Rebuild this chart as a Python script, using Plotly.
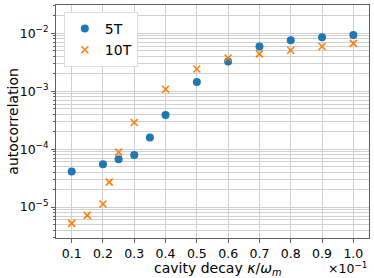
import plotly.graph_objects as go

x_5t = [0.1, 0.2, 0.25, 0.3, 0.35, 0.4, 0.5, 0.6, 0.7, 0.8, 0.9, 1.0]
y_5t = [4.1e-5, 5.5e-5, 6.7e-5, 7.9e-5, 1.59e-4, 3.9e-4, 1.44e-3, 3.25e-3, 5.9e-3, 7.6e-3, 8.5e-3, 9.35e-3]
x_10t = [0.1, 0.15, 0.2, 0.22, 0.25, 0.3, 0.4, 0.5, 0.6, 0.7, 0.8, 0.9, 1.0]
y_10t = [5.24e-6, 7.2e-6, 1.13e-5, 2.7e-5, 8.9e-5, 2.88e-4, 1.08e-3, 2.42e-3, 3.75e-3, 4.4e-3, 5.1e-3, 5.9e-3, 6.7e-3]

x_ticks = [0.1, 0.2, 0.3, 0.4, 0.5, 0.6, 0.7, 0.8, 0.9, 1.0]
x_ticktext = ["0.1", "0.2", "0.3", "0.4", "0.5", "0.6", "0.7", "0.8", "0.9", "1.0"]
y_ticks = [1e-5, 1e-4, 1e-3, 1e-2]
y_ticktext = ["10<sup>−5</sup>", "10<sup>−4</sup>", "10<sup>−3</sup>", "10<sup>−2</sup>"]
decades = [1e-6, 1e-5, 1e-4, 1e-3, 1e-2]
mantissas = [2, 3, 4, 5, 6, 7, 8, 9]
y_minor = [m * d for d in decades for m in mantissas]

font = "DejaVu Sans"
grid = "#d0d0d0"
axcol = "#606060"

fig = go.Figure()
fig.add_trace(go.Scatter(x=x_5t, y=y_5t, mode="markers", name="5T",
                         marker=dict(symbol="circle", size=8, color="#1f77b4")))
fig.add_trace(go.Scatter(x=x_10t, y=y_10t, mode="markers", name="10T",
                         marker=dict(symbol="x-thin", size=7, color="#ff7f0e",
                                     line=dict(width=1.6, color="#ff7f0e"))))

fig.update_layout(
    width=374, height=278,
    margin=dict(l=56, r=5, t=5, b=40, autoexpand=False),
    paper_bgcolor="white", plot_bgcolor="white",
    font=dict(family=font, size=13, color="black"),
    showlegend=True,
    legend=dict(x=0.025, y=0.97, xanchor="left", yanchor="top",
                bgcolor="white", bordercolor="#dddddd", borderwidth=1,
                font=dict(size=14, family=font), itemwidth=30),
    xaxis=dict(range=[0.05, 1.05], tickvals=x_ticks, ticktext=x_ticktext,
               showgrid=True, gridcolor=grid, gridwidth=1,
               ticks="outside", ticklen=4, tickcolor=axcol,
               showline=True, linecolor=axcol, linewidth=1, mirror=True,
               zeroline=False, tickfont=dict(size=12.5), automargin=False),
    yaxis=dict(type="log", range=[-5.534, -1.512], tickvals=y_ticks, ticktext=y_ticktext,
               showgrid=True, gridcolor=grid, gridwidth=1,
               ticks="outside", ticklen=4, tickcolor=axcol,
               showline=True, linecolor=axcol, linewidth=1, mirror=True,
               zeroline=False, tickfont=dict(size=12.5), automargin=False,
               minor=dict(tickmode="array", tickvals=y_minor, showgrid=True, gridcolor=grid,
                          ticks="outside", ticklen=2, tickcolor=axcol)),
)
fig.add_annotation(text="cavity decay <i>κ</i>/<i>ω<sub>m</sub></i>", xref="paper", yref="paper",
                   x=0.517, y=-0.088, xanchor="center", yanchor="top", showarrow=False,
                   borderpad=0, font=dict(size=14, family=font))
fig.add_annotation(text="autocorrelation", xref="paper", yref="paper", textangle=-90,
                   x=-0.14, y=0.5, xanchor="center", yanchor="middle", showarrow=False,
                   font=dict(size=14, family=font))
fig.add_annotation(text="×10<sup>−1</sup>", xref="paper", yref="paper", x=0.997, y=-0.088,
                   xanchor="right", yanchor="top", showarrow=False, borderpad=0,
                   font=dict(size=12.5, family=font))
fig.write_html("out.html", config={"displayModeBar": False},
               post_script="document.body.style.margin='0';")
